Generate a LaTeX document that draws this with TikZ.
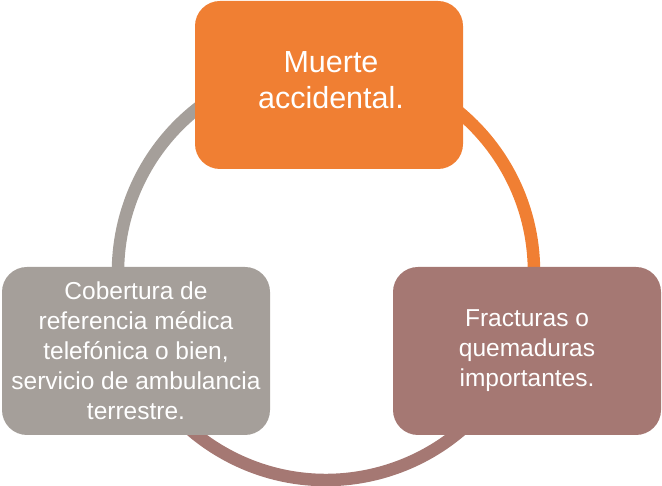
\documentclass[tikz,border=0pt]{standalone}
\usepackage{fontspec}
\setmainfont{Liberation Sans}
\definecolor{corange}{HTML}{F07F33}
\definecolor{cgray}{HTML}{A59F9A}
\definecolor{crose}{HTML}{A57873}
\begin{document}
\begin{tikzpicture}[x=1pt,y=1pt,
  box/.style={rectangle, rounded corners=25pt, minimum width=268pt, minimum height=168pt, inner sep=0pt, align=center, text=white},
  big/.style={font=\fontsize{30.5}{36}\selectfont},
  small/.style={font=\fontsize{24.5}{30}\selectfont},
  ring/.style={line width=12.5pt}]
\useasboundingbox (0,0) rectangle (662,486);
\coordinate (c) at (326,214);
\draw[ring, corange] (c) ++(90:208) arc[start angle=90, end angle=-30, radius=208];
\draw[ring, crose] (c) ++(-30:208) arc[start angle=-30, end angle=-150, radius=208];
\draw[ring, cgray] (c) ++(210:208) arc[start angle=210, end angle=90, radius=208];
\node[box, fill=corange] (top) at (329,401) {};
\node[big, text=white, align=center] (toptext) at (331,406) {Muerte\\accidental.};
\node[box, fill=cgray, small] (left) at (136,135) {Cobertura de\\referencia médica\\telefónica o bien,\\servicio de ambulancia\\terrestre.};
\node[box, fill=crose, small] (right) at (527,135) {Fracturas o\\quemaduras\\importantes.};
\end{tikzpicture}
\end{document}
